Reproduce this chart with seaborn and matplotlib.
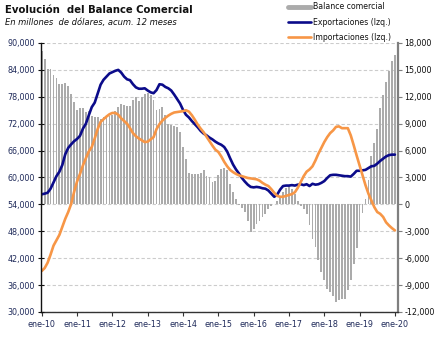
import numpy as np
import pandas as pd
import matplotlib
matplotlib.use("Agg")
import matplotlib.pyplot as plt
import seaborn as sns
from matplotlib.ticker import FuncFormatter, FixedLocator
from matplotlib.lines import Line2D

# Monthly series, ene-2010 .. ene-2020 (12-month rolling sums, USD millions)
exportaciones = [
    56250, 56400, 56600, 57500, 58900, 60300, 61300, 62800, 65200, 66600, 67400, 68100,
    68600, 69300, 70900, 72000, 73900, 75700, 76700, 78700, 80700, 81800, 82500, 83200,
    83500, 83800, 84000, 83400, 82500, 81900, 81700, 80800, 80100, 79800, 79800, 79900,
    79400, 79000, 78800, 79500, 80800, 80700, 80200, 79900, 79400, 78500, 77500, 76500,
    75100, 74000, 73400, 72600, 71900, 71200, 70400, 69800, 69400, 68900, 68500, 68000,
    67600, 67300, 66800, 65800, 64300, 62900, 61800, 60900, 59900, 59100, 58400, 57900,
    57800, 57900, 57800, 57600, 57500, 57100, 56400, 55700, 56200, 57300, 58100, 58200,
    58200, 58300, 58200, 58400, 58500, 58300, 58500, 58100, 58600, 58400, 58500, 58800,
    59200, 59900, 60500, 60600, 60600, 60500, 60400, 60300, 60300, 60200, 60800, 61500,
    61500, 61600, 61700, 62100, 62500, 62600, 63100, 63700, 64200, 64700, 65000, 65100,
    65100,
]
importaciones = [
    39150, 39800, 41000, 42800, 44800, 46000, 47200, 49000, 50800, 52300, 54100, 56800,
    59100, 60800, 62700, 64300, 65800, 66800, 68700, 70800, 72400, 73000, 73600, 74100,
    74400, 74400, 74000, 73200, 72600, 72000, 71000, 69900, 69200, 68700, 68300, 67900,
    68000, 68500, 69000, 70800, 71900, 72700, 73300, 73800, 74200, 74500, 74600, 74700,
    74800, 75000, 74700, 73900, 72900, 71800, 70900, 70100, 69100, 68100, 67100, 66200,
    65700, 64700, 63500, 62500, 61700, 61200, 60800, 60500, 60300, 60100, 59900, 59800,
    59700, 59600, 59300, 58800, 58400, 58100, 57400, 56600, 55900, 55700, 55700, 55900,
    56100, 56300, 56700, 57700, 59000, 60300, 61300, 61800, 62500, 63800, 65300, 66600,
    67900, 69000, 69900, 70500, 71300, 71400, 71000, 71000, 71000, 69400, 67200, 64900,
    62700, 60500, 58300, 56400, 54900, 53400, 52300, 51900, 51200, 50000, 49300, 48700,
    48200,
]
balance = [
    17100, 16250, 15150, 15050, 14400, 14050, 13450, 13450, 13500, 13200, 12300, 11400,
    10500, 10700, 10800, 10300, 10400, 9900, 9800, 9700, 9550, 9750, 9800, 9900,
    10000, 10450, 10850, 11250, 11100, 10950, 11000, 11650, 12000, 11500, 11950, 12300,
    12400, 12150, 11600, 10500, 10650, 10850, 9950, 9000, 8800, 8700, 8600, 8050,
    6400, 5100, 3500, 3400, 3400, 3400, 3500, 3850, 3200, 3000, 2500, 2600,
    3300, 3950, 4100, 3800, 2300, 1400, 550, -50, -400, -800, -1900, -3100,
    -2700, -2200, -1800, -1400, -1050, -500, -200, 100, 400, 900, 1400, 1800,
    2000, 1750, 1200, 400, -150, -500, -1100, -2300, -3900, -4800, -6200, -7500,
    -8450, -9400, -9800, -10200, -10900, -10650, -10600, -10500, -9600, -8450, -6600, -4900,
    -3000, -1000, 600, 2700, 5400, 6850, 8450, 10800, 12200, 13650, 14900, 16000,
    16700,
]
year_labels = ["ene-10", "ene-11", "ene-12", "ene-13", "ene-14", "ene-15",
               "ene-16", "ene-17", "ene-18", "ene-19", "ene-20"]

n = len(balance)
df = pd.DataFrame({
    "mes": np.arange(n),
    "Exportaciones": exportaciones,
    "Importaciones": importaciones,
    "Balance": balance,
})

NAVY = "#0B0B8A"
ORANGE = "#F79646"
GREY = "#ABABAB"
TICK_TXT = "#1F2A5A"

sns.set_style("white")
plt.rcParams["font.family"] = ["DejaVu Sans"]

fig = plt.figure(figsize=(4.42, 3.40), dpi=100)
axb = fig.add_axes([41 / 442, 1 - 312 / 340, (397.7 - 41) / 442, (312 - 43) / 340])
axl = axb.twinx()

# Trade balance bars (right axis)
sns.barplot(data=df, x="mes", y="Balance", native_scale=True, color=GREY,
            width=0.62, errorbar=None, ax=axb, saturation=1, linewidth=0)
axb.set_ylim(-12000, 18000)
axb.yaxis.set_major_locator(FixedLocator(np.arange(-12000, 18001, 3000)))
axb.yaxis.tick_right()
axb.yaxis.set_label_position("right")
axb.yaxis.set_major_formatter(FuncFormatter(lambda v, p: f"{v:,.0f}"))
axb.set_axisbelow(True)
axb.grid(axis="y", color="#CCCCCC", linestyle=(0, (3, 2)), linewidth=0.8)
axb.grid(axis="x", visible=False)

# Export / import lines (left axis)
sns.lineplot(data=df, x="mes", y="Exportaciones", color=NAVY, linewidth=1.9, ax=axl)
sns.lineplot(data=df, x="mes", y="Importaciones", color=ORANGE, linewidth=1.9, ax=axl)
axl.set_ylim(30000, 90000)
axl.yaxis.set_major_locator(FixedLocator(np.arange(30000, 90001, 6000)))
axl.yaxis.tick_left()
axl.yaxis.set_label_position("left")
axl.yaxis.set_major_formatter(FuncFormatter(lambda v, p: f"{v:,.0f}"))
axl.grid(False)

for a in (axb, axl):
    a.set_xlim(-0.25, 120.95)
    a.set_xlabel("")
    a.set_ylabel("")
axb.set_xticks(np.arange(0, 121, 12))
axb.set_xticklabels(year_labels)
axl.tick_params(axis="x", bottom=False, labelbottom=False)

axb.tick_params(axis="x", direction="out", length=3, width=0.8, color="#333333",
                labelsize=5.8, labelcolor=TICK_TXT, pad=3, bottom=True)
axb.tick_params(axis="y", direction="out", length=3, width=0.8, color="#7F7F7F",
                labelsize=5.8, labelcolor="#111111", pad=2, right=True, left=False)
axl.tick_params(axis="y", direction="inout", length=5, width=0.8, color="#111111",
                labelsize=5.8, labelcolor=TICK_TXT, pad=2, left=True, right=False)

for a in (axb, axl):
    a.spines["top"].set_visible(False)
axl.spines["bottom"].set_visible(False)
axl.spines["right"].set_visible(False)
axb.spines["left"].set_visible(False)
axl.spines["left"].set_color("#111111")
axl.spines["left"].set_linewidth(1.0)
axb.spines["bottom"].set_color("#333333")
axb.spines["bottom"].set_linewidth(1.0)
axb.spines["right"].set_color("#7F7F7F")
axb.spines["right"].set_linewidth(1.6)

# Titles
fig.text(5 / 442, 1 - 13 / 340, "Evolución  del Balance Comercial",
         fontsize=7.3, fontweight="bold", color="#111111", va="baseline", ha="left")
fig.text(5 / 442, 1 - 25 / 340, "En millones  de dólares, acum. 12 meses",
         fontsize=6.0, style="italic", color="#111111", va="baseline", ha="left")

# Legend
handles = [
    Line2D([], [], color=GREY, linewidth=3.5),
    Line2D([], [], color=NAVY, linewidth=1.9),
    Line2D([], [], color=ORANGE, linewidth=1.9),
]
labels = ["Balance comercial", "Exportaciones (Izq.)", "Importaciones (Izq.)"]
fig.legend(handles, labels, loc="upper left", bbox_to_anchor=(283 / 442, 1 + 3 / 340),
           frameon=False, fontsize=5.6, handlelength=2.9, handletextpad=0.3,
           labelspacing=0.8, borderpad=0.2, labelcolor="#111111")

fig.savefig("out.png", dpi=100)
